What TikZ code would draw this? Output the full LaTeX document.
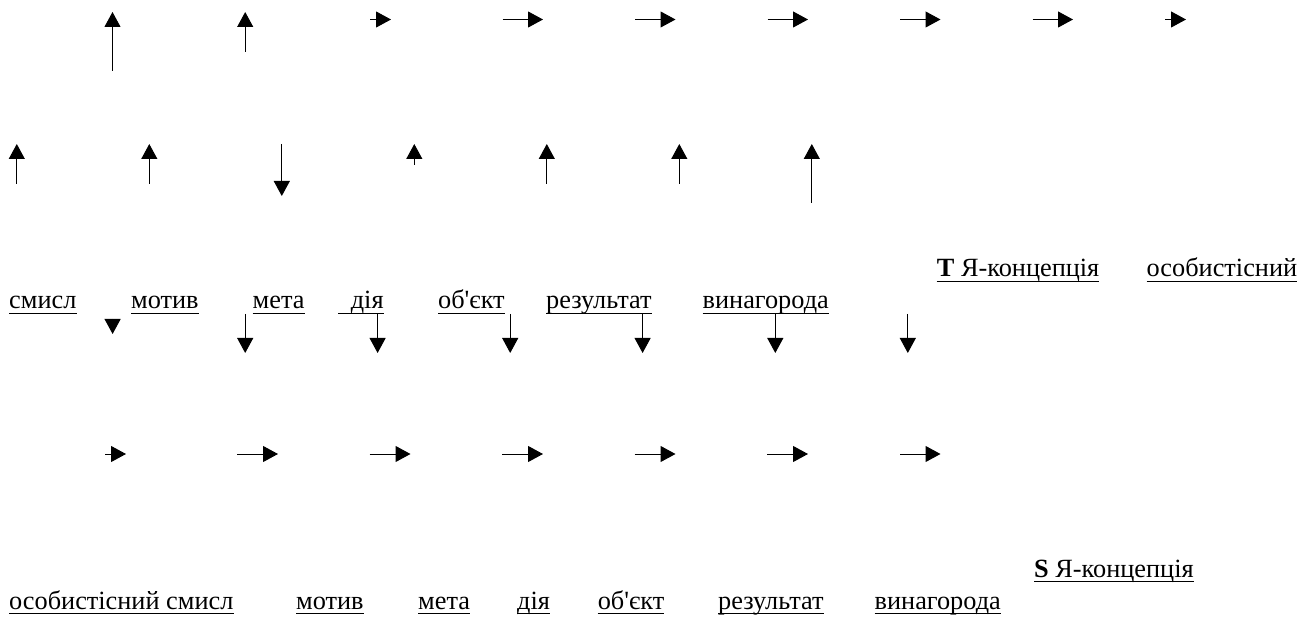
\documentclass[tikz,border=0pt]{standalone}
\usepackage{fontspec}
\newfontfamily\tnr{Liberation Serif}
\usetikzlibrary{arrows.meta}
\newcommand\underlabel[1]{\draw[uline] ([yshift=-4.5pt]#1.base west) -- ([yshift=-4.5pt]#1.base east);}
\begin{document}
\begin{tikzpicture}[x=1pt,y=-1pt,
  arr/.style={-{Triangle[length=15pt,width=16pt]}, line width=1pt},
  lbl/.style={anchor=base west, inner sep=0pt, font=\tnr\fontsize{26.3}{30}\selectfont},
  uline/.style={line width=1.8pt}]
\useasboundingbox (0,0) rectangle (1314,617);

% vertical arrows: name / x / start y / end y
\foreach \n/\x/\a/\b in {
    t1/112.5/71/12, t2/245.2/52/12,
    m1/16.8/184/144, m2/149.3/184/144, m3/281.8/144/196, m4/414.3/165/144,
    m5/546.8/184/144, m6/679.3/184/144, m7/811.8/203/144,
    d1/112.6/319/334, d2/245.2/314/353, d3/377.6/314/353, d4/510.2/314/353,
    d5/642.6/314/353, d6/775.3/314/353, d7/907.8/314/353} {
  \coordinate (\n s) at (\x,\a);
  \coordinate (\n e) at (\x,\b);
  \draw[arr] (\n s) -- (\n e);
}

% horizontal arrows: name / start x / end x / y
\foreach \n/\a/\b/\y in {
    h1/370/391/19.5, h2/502.5/543/19.5, h3/635/675.5/19.5, h4/767.5/808/19.5,
    h5/900/940.5/19.5, h6/1032.5/1073/19.5, h7/1165/1186/19.5,
    g1/105/126/454, g2/237/278/454, g3/369.5/410.5/454, g4/502/543/454,
    g5/634.7/675.5/454, g6/767/808/454, g7/900/940.5/454} {
  \coordinate (\n s) at (\a,\y);
  \coordinate (\n e) at (\b,\y);
  \draw[arr] (\n s) -- (\n e);
}

% upper chain of labels
\node[lbl] (smysl3) at (9,309) {смисл};
\node[lbl] (motyv3) at (131,309) {мотив};
\node[lbl] (meta3) at (252.5,309) {мета};
\node[lbl] (diia3) at (338,309) {\hspace*{12.6pt}дія};
\node[lbl] (obiekt3) at (438,309) {об'єкт};
\node[lbl] (rezult3) at (546,309) {результат};
\node[lbl] (vynah3) at (702.5,309) {винагорода};
\node[lbl] (ya3) at (936.7,277) {\textbf{T} Я-концепція};
\node[lbl] (osob3) at (1146.5,277) {особистісний};

% lower chain of labels
\node[lbl] (osob5) at (9,609) {особистісний смисл};
\node[lbl] (motyv5) at (296,609) {мотив};
\node[lbl] (meta5) at (418,609) {мета};
\node[lbl] (diia5) at (517,609) {дія};
\node[lbl] (obiekt5) at (597.6,609) {об'єкт};
\node[lbl] (rezult5) at (718,609) {результат};
\node[lbl] (vynah5) at (874.5,609) {винагорода};
\node[lbl] (ya5) at (1034,577) {\textbf{S} Я-концепція};

\foreach \n in {smysl3,motyv3,meta3,diia3,obiekt3,rezult3,vynah3,ya3,osob3,
                osob5,motyv5,meta5,diia5,obiekt5,rezult5,vynah5,ya5} {
  \underlabel{\n}
}
\end{tikzpicture}
\end{document}
